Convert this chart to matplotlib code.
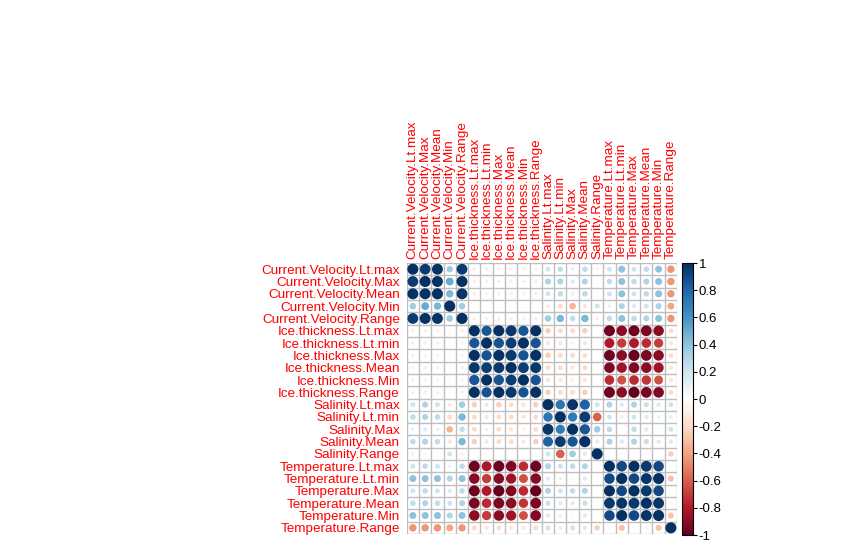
import numpy as np
import matplotlib
matplotlib.use('Agg')
import matplotlib.pyplot as plt
from matplotlib.colors import LinearSegmentedColormap, Normalize
from matplotlib.patches import Circle
from matplotlib.cm import ScalarMappable

plt.rcParams['font.family'] = ['Liberation Sans', 'DejaVu Sans']

############################# Data #############################

variables = ['Current.Velocity.Lt.max', 'Current.Velocity.Max', 'Current.Velocity.Mean',
             'Current.Velocity.Min', 'Current.Velocity.Range',
             'Ice.thickness.Lt.max', 'Ice.thickness.Lt.min', 'Ice.thickness.Max',
             'Ice.thickness.Mean', 'Ice.thickness.Min', 'Ice.thickness.Range',
             'Salinity.Lt.max', 'Salinity.Lt.min', 'Salinity.Max', 'Salinity.Mean',
             'Salinity.Range',
             'Temperature.Lt.max', 'Temperature.Lt.min', 'Temperature.Max',
             'Temperature.Mean', 'Temperature.Min', 'Temperature.Range']

# lower triangle of the correlation matrix, row by row
lower = [
    [1],
    [0.95, 1],
    [0.98, 0.98, 1],
    [0.35, 0.5, 0.45, 1],
    [0.95, 0.98, 0.97, 0.35, 1],
    [-0.1, -0.1, -0.1, -0.05, -0.1, 1],
    [-0.1, -0.1, -0.1, -0.05, -0.1, 0.85, 1],
    [-0.1, -0.1, -0.1, -0.05, -0.1, 0.99, 0.86, 1],
    [-0.1, -0.1, -0.1, -0.05, -0.1, 0.96, 0.94, 0.96, 1],
    [-0.1, -0.1, -0.1, -0.05, -0.1, 0.85, 0.99, 0.86, 0.94, 1],
    [-0.1, -0.1, -0.1, -0.05, -0.1, 0.99, 0.86, 0.99, 0.96, 0.86, 1],
    [0.2, 0.3, 0.2, -0.12, 0.35, -0.25, -0.15, -0.25, -0.2, -0.15, -0.25, 1],
    [0.25, 0.3, 0.25, -0.2, 0.45, -0.2, -0.15, -0.2, -0.2, -0.15, -0.2, 0.72, 1],
    [0.1, 0.15, 0.1, -0.35, 0.25, -0.2, -0.1, -0.2, -0.15, -0.1, -0.2, 0.97, 0.7, 1],
    [0.25, 0.3, 0.25, -0.15, 0.45, -0.25, -0.15, -0.2, -0.2, -0.15, -0.25, 0.82, 0.95, 0.85, 1],
    [-0.1, -0.05, -0.05, 0.2, -0.1, 0.03, 0.02, 0.03, 0.02, 0.02, 0.03, 0.2, -0.6, 0.35, -0.15, 1],
    [0.2, 0.25, 0.2, 0.1, 0.25, -0.98, -0.8, -0.98, -0.92, -0.75, -0.98, 0.3, 0.2, 0.25, 0.3, -0.03, 1],
    [0.4, 0.4, 0.4, 0.3, 0.4, -0.9, -0.7, -0.9, -0.85, -0.65, -0.9, 0.15, 0.1, 0.05, 0.15, 0.02, 0.9, 1],
    [0.2, 0.25, 0.2, 0.15, 0.25, -0.98, -0.8, -1.0, -0.92, -0.75, -1.0, 0.3, 0.2, 0.25, 0.3, -0.02, 0.99, 0.9, 1],
    [0.25, 0.3, 0.25, 0.2, 0.3, -0.95, -0.75, -0.95, -0.9, -0.72, -0.95, 0.22, 0.15, 0.15, 0.22, -0.02, 0.96, 0.97, 0.96, 1],
    [0.4, 0.4, 0.4, 0.3, 0.4, -0.9, -0.7, -0.9, -0.85, -0.65, -0.92, 0.15, 0.1, 0.05, 0.15, 0.02, 0.9, 0.99, 0.9, 0.97, 1],
    [-0.45, -0.45, -0.45, -0.4, -0.45, -0.2, -0.15, -0.2, -0.15, -0.15, -0.2, 0.2, 0.12, 0.2, 0.15, -0.25, -0.05, -0.3, -0.05, -0.08, -0.3, 1],
]

cbar_ticks = [-1, -0.8, -0.6, -0.4, -0.2, 0, 0.2, 0.4, 0.6, 0.8, 1]

############################# Plot #############################

n = len(variables)
corr = np.zeros((n, n))
for i, row in enumerate(lower):
    for j, v in enumerate(row):
        corr[i, j] = v
        corr[j, i] = v

palette = ["#67001F", "#B2182B", "#D6604D", "#F4A582", "#FDDBC7", "#FFFFFF",
           "#D1E5F0", "#92C5DE", "#4393C3", "#2166AC", "#053061"]
cmap = LinearSegmentedColormap.from_list('corr', palette, N=200)
norm = Normalize(-1, 1)

fig = plt.figure(figsize=(8.65, 5.49), dpi=100)
ax = fig.add_axes([0.4702, 0.0273, 0.3125, 0.4936])

for i in range(n):
    for j in range(n):
        v = corr[i, j]
        r = 0.45 * np.sqrt(abs(v))
        ax.add_patch(Circle((j + 0.5, i + 0.5), r, facecolor=cmap(norm(v)),
                            edgecolor='none', zorder=2))

for k in range(n + 1):
    ax.axhline(k, color='#BEBEBE', lw=1, zorder=1)
    ax.axvline(k, color='#BEBEBE', lw=1, zorder=1)

ax.set_xlim(0, n)
ax.set_ylim(n, 0)
ax.set_aspect('auto')
for s in ax.spines.values():
    s.set_visible(False)

ax.xaxis.tick_top()
ax.set_xticks(np.arange(n) + 0.5)
ax.set_xticklabels(variables, rotation=90, color='red', fontsize=9.7)
ax.set_yticks(np.arange(n) + 0.5)
ax.set_yticklabels(variables, color='red', fontsize=9.7)
ax.tick_params(length=0, pad=5)
ax.tick_params(axis='x', pad=3)

cax = fig.add_axes([0.789, 0.0255, 0.0121, 0.4954])
sm = ScalarMappable(norm=norm, cmap=cmap)
cb = fig.colorbar(sm, cax=cax, ticks=cbar_ticks)
cb.ax.set_yticklabels(['%g' % t for t in cbar_ticks], fontsize=9.5)
cb.ax.tick_params(length=3, width=0.8, pad=1)
cb.outline.set_linewidth(0.8)

plt.savefig('out.png', dpi=100)
plt.close()
